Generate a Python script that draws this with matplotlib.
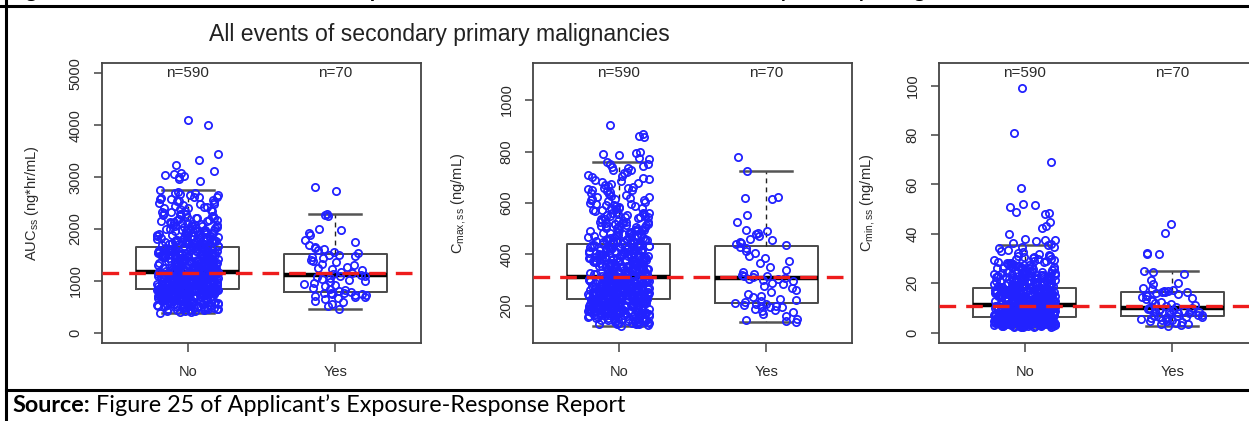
import numpy as np
import matplotlib
matplotlib.use("Agg")
import matplotlib.pyplot as plt
from matplotlib.lines import Line2D

plt.rcParams["font.family"] = ["Liberation Sans", "DejaVu Sans"]
plt.rcParams["mathtext.fontset"] = "custom"
plt.rcParams["mathtext.rm"] = "Liberation Sans"

# ---------------------------------------------------------------- data
groups = ["No", "Yes"]

auc_no = [
    386, 395, 401, 412, 418, 425, 431, 436, 447, 452, 458, 463, 470, 474, 481, 488, 492, 497, 503, 507,
    512, 516, 521, 527, 531, 534, 540, 544, 549, 553, 556, 561, 566, 569, 573, 578, 583, 586, 590, 594,
    598, 602, 605, 609, 613, 617, 620, 624, 627, 631, 634, 638, 641, 645, 648, 652, 655, 658, 662, 665,
    668, 672, 674, 679, 681, 685, 688, 690, 694, 697, 699, 703, 706, 709, 710, 715, 718, 720, 724, 727,
    729, 732, 733, 737, 740, 741, 745, 747, 750, 751, 755, 757, 758, 762, 764, 767, 768, 772, 774, 776,
    778, 781, 782, 786, 787, 790, 791, 794, 795, 798, 800, 801, 804, 806, 807, 810, 811, 814, 815, 818,
    819, 820, 821, 822, 823, 824, 825, 826, 827, 828, 455, 520, 575, 640, 700, 745, 760, 790, 805, 812,
    440, 530, 610, 690, 780, 829, 470,
    832, 835, 838, 842, 845, 848, 851, 855, 858, 861, 864, 867, 871, 874, 877, 880, 884, 887, 890, 893,
    896, 899, 903, 906, 909, 912, 915, 918, 922, 925, 928, 931, 934, 938, 941, 944, 947, 950, 953, 957,
    960, 963, 966, 969, 972, 976, 979, 982, 985, 988, 991, 995, 998, 1001, 1004, 1007, 1011, 1014, 1017, 1020,
    1023, 1026, 1030, 1033, 1036, 1039, 1042, 1045, 1049, 1052, 1055, 1058, 1061, 1064, 1068, 1071, 1074, 1077, 1080, 1083,
    1087, 1090, 1093, 1096, 1099, 1102, 1106, 1109, 1112, 1115, 1118, 1121, 1125, 1128, 1131, 1134, 1137, 1140, 1144, 1147,
    1150, 1153, 1156, 1159, 1162, 1165, 1168, 843, 901, 956, 1012, 1066, 1122, 870, 935, 990, 1048, 1101, 1160, 915,
    836, 853, 869, 882, 897, 911, 927, 946, 962, 981, 996, 1018, 1028, 1044, 1059, 1079, 1097, 1117, 1133, 1164,
    975, 1035, 1092, 1139, 885, 1000, 1110, 1155,
    1172, 1176, 1180, 1184, 1188, 1192, 1197, 1201, 1205, 1209, 1213, 1218, 1222, 1226, 1230, 1235, 1239, 1243, 1247, 1252,
    1256, 1260, 1264, 1269, 1273, 1277, 1282, 1286, 1290, 1294, 1299, 1303, 1307, 1312, 1316, 1320, 1325, 1329, 1333, 1338,
    1342, 1346, 1351, 1355, 1359, 1364, 1368, 1373, 1377, 1381, 1386, 1390, 1395, 1399, 1404, 1408, 1413, 1417, 1421, 1426,
    1430, 1435, 1440, 1444, 1449, 1453, 1458, 1462, 1467, 1472, 1476, 1481, 1486, 1490, 1495, 1500, 1504, 1509, 1514, 1519,
    1523, 1528, 1533, 1538, 1543, 1547, 1552, 1557, 1562, 1567, 1572, 1577, 1582, 1587, 1592, 1597, 1602, 1607, 1612, 1618,
    1623, 1628, 1633, 1638, 1644, 1649, 1652, 1185, 1241, 1298, 1357, 1415, 1478, 1541, 1605, 1210, 1330, 1450, 1580, 1270,
    1178, 1194, 1216, 1233, 1262, 1284, 1311, 1335, 1348, 1371, 1397, 1424, 1447, 1469, 1497, 1526, 1549, 1575, 1599, 1641,
    1390, 1510, 1630, 1200, 1360, 1560, 1460,
    1657, 1662, 1668, 1673, 1679, 1685, 1690, 1696, 1702, 1708, 1714, 1720, 1726, 1732, 1739, 1745, 1751, 1758, 1764, 1771,
    1777, 1784, 1791, 1798, 1805, 1812, 1819, 1826, 1833, 1841, 1848, 1856, 1863, 1871, 1879, 1887, 1895, 1903, 1911, 1920,
    1928, 1937, 1945, 1954, 1963, 1972, 1981, 1991, 2000, 2010, 2020, 2030, 2040, 2050, 2061, 2072, 2083, 2094, 2105, 2117,
    2128, 2140, 2152, 2165, 2177, 2190, 2203, 2216, 2230, 2244, 2258, 2272, 2287, 2302, 2317, 2333, 2349, 2366, 2383, 2400,
    2418, 2436, 2455, 2474, 2494, 2514, 2535, 2556, 2578, 2600, 2623, 2647, 2671, 2696, 2721, 2747, 1700, 1760, 1820, 1890,
    1960, 2060, 2170, 2290, 2420, 2580, 2660, 1680, 1740, 1800, 1870, 1940, 2020, 2110, 2220, 2350, 2610, 1790, 1980, 2260,
    1665, 1715, 1850, 1910, 2000, 2080, 2150, 2480, 2530, 2700, 2610, 1735, 1830, 2090, 2400,
    2930, 2970, 3000, 3020, 3040, 3050, 3080, 3110, 3240, 3330, 3450, 4000, 4100,
]
auc_yes = [
    463, 520, 555, 590, 610, 640, 660, 680, 695, 710, 720, 735, 745, 750, 758, 765, 770,
    780, 800, 820, 845, 865, 890, 910, 930, 950, 970, 990, 1010, 1030, 1050, 1070, 1085, 1100,
    1112, 1130, 1150, 1175, 1200, 1225, 1250, 1275, 1300, 1330, 1360, 1390, 1410, 1430, 1450, 1470, 1488,
    1500, 1530, 1560, 1590, 1610, 1640, 1660, 1690, 1740, 1790, 1880, 1930, 1980, 2000, 2250, 2270, 2284,
    2730, 2800,
]

cmax_no = [
    122, 126, 129, 131, 134, 136, 138, 140, 141, 143, 145, 146, 148, 149, 151, 152, 153, 155, 156, 157,
    158, 160, 161, 162, 163, 164, 165, 167, 168, 169, 170, 171, 172, 173, 174, 175, 176, 177, 178, 179,
    180, 181, 182, 183, 184, 185, 186, 186, 187, 188, 189, 190, 191, 192, 193, 193, 194, 195, 196, 197,
    198, 199, 199, 200, 201, 202, 203, 204, 204, 205, 206, 207, 208, 209, 209, 210, 211, 212, 213, 214,
    214, 215, 216, 217, 218, 219, 219, 220, 221, 222, 223, 224, 224, 225, 226, 135, 150, 166, 185, 200,
    212, 144, 159, 176, 190, 205, 218, 130, 154, 171, 188, 203, 221, 139, 163, 181, 196, 210, 225, 147,
    173, 192, 207, 128, 162, 183, 199, 216, 137, 166, 187, 208, 223, 142, 170, 194, 211, 148, 178, 201,
    219, 155, 184, 206, 132, 175, 215,
    228, 228, 229, 230, 231, 231, 232, 233, 233, 234, 235, 235, 236, 237, 238, 238, 239, 240, 240, 241,
    242, 242, 243, 244, 245, 245, 246, 247, 247, 248, 249, 250, 250, 251, 252, 252, 253, 254, 255, 255,
    256, 256, 257, 258, 258, 259, 260, 261, 261, 262, 263, 263, 264, 265, 266, 266, 267, 268, 268, 269,
    270, 270, 271, 272, 273, 273, 274, 275, 275, 276, 277, 278, 278, 279, 280, 280, 281, 282, 283, 283,
    284, 285, 285, 286, 287, 287, 288, 289, 290, 290, 291, 292, 292, 293, 294, 295, 295, 296, 297, 297,
    298, 299, 300, 300, 301, 302, 302, 303, 304, 304, 305, 306, 307, 307, 308, 309, 309, 310, 311, 312,
    229, 233, 237, 241, 246, 249, 253, 257, 260, 264, 267, 271, 276, 279, 284, 288, 293, 298, 303, 310,
    250, 262, 274, 289, 299, 236, 244, 312,
    314, 315, 316, 317, 318, 319, 320, 321, 322, 323, 324, 325, 325, 326, 327, 328, 329, 330, 331, 332,
    333, 334, 335, 336, 337, 338, 339, 340, 341, 342, 343, 343, 344, 345, 346, 347, 348, 349, 350, 351,
    352, 353, 354, 355, 356, 357, 358, 359, 360, 361, 362, 362, 363, 364, 365, 366, 367, 368, 369, 370,
    371, 372, 373, 374, 375, 376, 377, 378, 379, 380, 381, 381, 382, 383, 384, 385, 386, 387, 388, 389,
    390, 391, 392, 393, 394, 395, 396, 397, 398, 399, 400, 401, 402, 403, 404, 405, 406, 407, 408, 409,
    410, 411, 412, 413, 414, 415, 416, 417, 418, 419, 420, 421, 422, 423, 424, 425, 426, 427, 428, 429,
    430, 431, 432, 433, 434, 435, 436, 437, 438, 440, 318, 329, 341, 356, 368, 377, 388, 396, 404, 413,
    421, 432, 439, 335, 352, 374, 398,
    442, 443, 445, 446, 447, 449, 450, 452, 453, 455, 456, 458, 459, 461, 462, 464, 466, 467, 469, 470,
    472, 474, 475, 477, 479, 481, 482, 484, 486, 488, 490, 492, 494, 495, 497, 499, 501, 503, 505, 507,
    509, 511, 513, 515, 517, 519, 521, 523, 526, 528, 530, 532, 534, 537, 539, 541, 544, 546, 548, 551,
    553, 556, 558, 561, 563, 566, 569, 571, 574, 577, 580, 582, 585, 588, 591, 594, 597, 600, 603, 606,
    610, 613, 616, 620, 623, 627, 630, 634, 638, 642, 646, 650, 654, 658, 663, 667, 672, 677, 682, 687,
    692, 697, 703, 709, 715, 721, 728, 735, 742, 750, 760, 448, 471, 496, 525, 560, 590, 625, 660, 700,
    457, 485, 512, 545, 580, 615, 650, 690, 730, 753, 465, 520, 595, 670, 740, 505, 555, 478,
    770, 775, 785, 790, 795, 800, 855, 862, 870, 905,
]
cmax_yes = [
    138, 140, 145, 150, 160, 170, 175, 180, 185, 190, 195, 196, 198, 200, 203, 206, 209,
    212, 215, 218, 222, 228, 235, 240, 248, 255, 262, 270, 278, 285, 290, 295, 300, 303,
    306, 310, 312, 315, 318, 322, 326, 330, 340, 350, 365, 375, 385, 395, 405, 415, 425,
    430, 435, 440, 445, 448, 455, 460, 470, 480, 485, 490, 495, 525, 555, 615, 620, 625, 724,
    780,
]

cmin_no = [
    2.2, 2.3, 2.3, 2.4, 2.5, 2.5, 2.6, 2.7, 2.7, 2.8, 2.8, 2.9, 3.0, 3.0, 3.1, 3.1, 3.2, 3.2, 3.3, 3.3,
    3.4, 3.4, 3.5, 3.5, 3.5, 3.6, 3.6, 3.7, 3.7, 3.8, 3.8, 3.8, 3.9, 3.9, 4.0, 4.0, 4.0, 4.1, 4.1, 4.2,
    4.2, 4.2, 4.3, 4.3, 4.3, 4.4, 4.4, 4.4, 4.5, 4.5, 4.5, 4.6, 4.6, 4.6, 4.7, 4.7, 4.7, 4.8, 4.8, 4.8,
    4.9, 4.9, 4.9, 5.0, 5.0, 5.0, 5.0, 5.1, 5.1, 5.1, 5.2, 5.2, 5.2, 5.3, 5.3, 5.3, 5.4, 5.4, 5.4, 5.5,
    5.5, 5.5, 5.6, 5.6, 5.6, 5.7, 5.7, 5.7, 5.8, 5.8, 5.8, 5.9, 5.9, 5.9, 6.0, 6.0, 6.0, 6.1, 6.1, 6.2,
    2.4, 2.9, 3.2, 3.6, 3.9, 4.1, 4.4, 4.6, 4.9, 5.1, 5.3, 5.6, 5.8, 6.1, 2.6, 3.4, 4.0, 4.5, 5.2, 5.7,
    2.8, 3.5, 4.3, 4.8, 5.4, 6.0, 3.1, 3.7, 4.2, 4.7, 5.0, 5.5, 5.9, 6.2, 3.3, 3.9, 4.6, 5.1, 5.8, 6.1,
    2.5, 3.0, 3.8, 4.5, 5.2, 5.9, 6.2,
    6.3, 6.3, 6.4, 6.4, 6.5, 6.5, 6.6, 6.6, 6.7, 6.7, 6.8, 6.8, 6.9, 6.9, 7.0, 7.0, 7.1, 7.1, 7.2, 7.2,
    7.3, 7.3, 7.4, 7.4, 7.5, 7.5, 7.6, 7.6, 7.7, 7.7, 7.8, 7.8, 7.9, 7.9, 8.0, 8.0, 8.1, 8.1, 8.2, 8.2,
    8.3, 8.3, 8.4, 8.4, 8.5, 8.5, 8.6, 8.6, 8.7, 8.7, 8.8, 8.8, 8.9, 8.9, 9.0, 9.0, 9.1, 9.1, 9.2, 9.2,
    9.3, 9.3, 9.4, 9.4, 9.5, 9.5, 9.6, 9.6, 9.7, 9.7, 9.8, 9.8, 9.9, 9.9, 10.0, 10.0, 10.1, 10.1, 10.2, 10.2,
    10.3, 10.3, 10.4, 10.4, 10.5, 10.5, 10.6, 10.6, 10.7, 10.7, 10.8, 10.8, 10.9, 10.9, 11.0, 11.0, 6.5, 7.0, 7.5, 8.0,
    8.5, 9.0, 9.5, 10.0, 10.5, 6.8, 7.3, 7.8, 8.3, 8.8, 9.3, 9.8, 10.3, 10.8, 6.4, 7.2, 8.1, 9.1, 10.1, 6.9,
    6.4, 6.7, 7.0, 7.3, 7.6, 7.9, 8.2, 8.5, 8.8, 9.1, 9.4, 9.7, 10.0, 10.3, 10.6, 10.9, 6.6, 7.7, 8.7, 9.9,
    7.6, 8.6, 9.6, 10.6, 7.9, 8.9, 9.9, 10.9,
    11.2, 11.3, 11.3, 11.4, 11.5, 11.5, 11.6, 11.7, 11.7, 11.8, 11.9, 11.9, 12.0, 12.1, 12.1, 12.2, 12.3, 12.3, 12.4, 12.5,
    12.5, 12.6, 12.7, 12.7, 12.8, 12.9, 12.9, 13.0, 13.1, 13.1, 13.2, 13.3, 13.3, 13.4, 13.5, 13.5, 13.6, 13.7, 13.7, 13.8,
    13.9, 13.9, 14.0, 14.1, 14.1, 14.2, 14.3, 14.3, 14.4, 14.5, 14.5, 14.6, 14.7, 14.8, 14.8, 14.9, 15.0, 15.0, 15.1, 15.2,
    15.3, 15.3, 15.4, 15.5, 15.6, 15.6, 15.7, 15.8, 15.9, 15.9, 16.0, 16.1, 16.2, 16.3, 16.3, 16.4, 16.5, 16.6, 16.7, 16.7,
    16.8, 16.9, 17.0, 17.1, 17.2, 17.3, 17.4, 17.5, 17.6, 17.7, 17.8, 17.9, 18.0, 11.6, 12.2, 12.8, 13.4, 14.0, 14.6, 15.2,
    15.8, 16.4, 17.0, 17.6, 11.4, 12.0, 12.6, 13.2, 13.8, 14.4, 15.0, 15.7, 16.3, 16.9, 17.5, 11.8, 12.4, 13.0, 13.6, 14.2,
    14.9, 15.5, 16.1, 16.8, 17.4, 11.9, 12.9, 13.9, 14.8, 15.8, 16.6, 17.3, 12.3, 13.5, 14.7, 16.0, 17.8, 13.1, 15.4, 17.2,
    12.7, 14.3, 15.9, 11.5, 13.3, 16.5, 17.9,
    18.2, 18.4, 18.5, 18.7, 18.9, 19.0, 19.2, 19.4, 19.5, 19.7, 19.9, 20.0, 20.2, 20.4, 20.6, 20.8, 21.0, 21.2, 21.4, 21.6,
    21.8, 22.0, 22.2, 22.4, 22.6, 22.8, 23.0, 23.2, 23.4, 23.7, 23.9, 24.1, 24.4, 24.6, 24.8, 25.1, 25.3, 25.6, 25.8, 26.1,
    26.4, 26.6, 26.9, 27.2, 27.5, 27.8, 28.1, 28.4, 28.7, 29.0, 29.4, 29.7, 30.0, 30.4, 30.8, 31.2, 31.6, 32.1, 32.6, 33.1,
    33.6, 34.2, 34.8, 35.4, 18.3, 18.8, 19.3, 19.8, 20.3, 20.7, 21.1, 21.5, 21.9, 22.3, 22.7, 23.1, 23.5, 24.0, 24.5, 25.0,
    25.5, 26.0, 26.8, 27.6, 28.5, 29.5, 30.6, 31.8, 18.6, 19.1, 19.6, 20.1, 20.5, 21.3, 22.1, 22.9, 23.8, 24.7, 25.9, 27.0,
    28.9, 30.9, 34.5, 18.9, 19.4, 20.9, 21.7, 22.5, 23.3, 24.2, 26.3, 28.0, 19.0, 20.0, 21.0, 22.0, 23.0, 24.0, 26.7, 29.8,
    18.5, 19.6, 20.6, 21.6, 22.6, 24.3, 27.3, 31.0,
    36.0, 36.5, 37.0, 37.5, 37.6, 38.0, 40.0, 42.5, 43.0, 45.0, 48.0, 48.5, 49.0, 51.0, 51.5, 52.0, 58.5, 69.0, 81.0, 99.0,
]
cmin_yes = [
    2.7, 3.0, 3.3, 3.6, 4.0, 4.3, 4.6, 4.9, 5.1, 5.3, 5.6, 5.8, 6.0, 6.2, 6.3, 6.4, 6.5,
    6.7, 6.9, 7.1, 7.3, 7.6, 7.8, 8.0, 8.2, 8.4, 8.6, 8.8, 9.0, 9.1, 9.3, 9.4, 9.5, 9.6,
    9.8, 10.0, 10.3, 10.7, 11.0, 11.5, 12.0, 12.5, 13.0, 13.4, 13.8, 14.2, 14.6, 15.0, 15.4, 15.7, 16.0,
    16.3, 16.6, 16.9, 17.2, 17.6, 18.0, 19.5, 20.0, 21.5, 23.8, 24.5, 25.0, 16.5, 17.0,
    31.8, 32.0, 32.2, 40.5, 44.0,
]

# overall median exposure drawn as the red reference line in each panel
overall_medians = [1158, 311, 10.9]

y_labels = [r"AUC$_{\mathregular{ss}}$ (ng*hr/mL)",
            r"C$_{\mathregular{max,ss}}$ (ng/mL)",
            r"C$_{\mathregular{min,ss}}$ (ng/mL)"]
y_ticks = [[0, 1000, 2000, 3000, 4000, 5000],
           [200, 400, 600, 800, 1000],
           [0, 20, 40, 60, 80, 100]]

panel_title = "All events of secondary primary malignancies"
caption = ("Figure 26: Distribution of Estimated Exposure in Patients with or "
           "without Secondary Primary Malignancies")
source_label = "Source:"
source_text = " Figure 25 of Applicant\u2019s Exposure-Response Report"

# ---------------------------------------------------------------- layout
W, H = 1249, 421
fig = plt.figure(figsize=(W / 100, H / 100), dpi=100)


def px_box(left, top, width, height):
    return [left / W, 1 - (top + height) / H, width / W, height / H]


panel_lefts = [102, 533, 939]
y_limits = [(-200, 5200), (56, 1144), (-4.2, 109.2)]
panel_data = [(auc_no, auc_yes), (cmax_no, cmax_yes), (cmin_no, cmin_yes)]
label_x = [-0.19, -0.20, -0.19]

TEXT = "#2a2a2a"


def spread(n, half, phase):
    # scattered horizontal offsets (deterministic hash) for the strip points
    k = np.arange(n) + 1.0 + phase
    u = np.sin(k * 12.9898) * 43758.5453
    u = u - np.floor(u)
    return (u - 0.5) * 2 * half


for i, left in enumerate(panel_lefts):
    ax = fig.add_axes(px_box(left, 63, 319, 280))
    no_vals, yes_vals = panel_data[i]
    series = [np.asarray(no_vals, float), np.asarray(yes_vals, float)]

    ax.boxplot(series, positions=[1, 2], widths=0.7, capwidths=0.35,
               showfliers=False, whis=1.5, zorder=2,
               boxprops=dict(color="#4a4a4a", linewidth=1.4),
               medianprops=dict(color="black", linewidth=3.2),
               whiskerprops=dict(color="#222222", linewidth=1.0, linestyle=(0, (3.5, 3))),
               capprops=dict(color="#555555", linewidth=1.8))

    for pos, vals in zip([1, 2], series):
        ax.plot(pos + spread(len(vals), 0.21, 7.0 * i + pos), vals, linestyle="none",
                marker="o", markersize=5.2, markerfacecolor="none",
                markeredgecolor="#2222ff", markeredgewidth=1.3, zorder=3)

    ax.axhline(overall_medians[i], color="#ee1c1c", linewidth=2.4,
               linestyle=(0, (5, 3)), zorder=4)

    for pos, vals in zip([1, 2], series):
        ax.text(pos, 0.963, f"n={len(vals)}", transform=ax.get_xaxis_transform(),
                ha="center", va="center", fontsize=11, color=TEXT)

    ax.set_xlim(0.42, 2.58)
    ax.set_ylim(*y_limits[i])
    ax.set_xticks([1, 2])
    ax.set_xticklabels(groups)
    ax.set_yticks(y_ticks[i])
    ax.set_yticklabels([str(t) for t in y_ticks[i]])
    ax.tick_params(axis="both", direction="out", color="#444444", width=1.1,
                   labelsize=10.5, labelcolor=TEXT)
    ax.tick_params(axis="x", length=6.5, pad=9)
    ax.tick_params(axis="y", length=6, pad=8, labelrotation=90)
    for lab in ax.get_yticklabels():
        lab.set_verticalalignment("center")
    for sp in ax.spines.values():
        sp.set_color("#444444")
        sp.set_linewidth(1.3)

    ax.set_ylabel(y_labels[i], fontsize=10.5, color=TEXT)
    ax.yaxis.set_label_coords(label_x[i], 0.5)

fig.text(439 / W, 1 - 35 / H, panel_title, ha="center", va="center",
         fontsize=16.6, color="#222222")

# report frame: rules and captions
frame_kw = dict(transform=fig.transFigure, color="black", linewidth=2.2)
fig.add_artist(Line2D([6 / W, 6 / W], [0, 1], **frame_kw))
fig.add_artist(Line2D([0, 1], [1 - 5.5 / H, 1 - 5.5 / H], **frame_kw))
fig.add_artist(Line2D([6 / W, 1], [1 - 390 / H, 1 - 390 / H], **frame_kw))

fig.text(9 / W, 1 + 3.5 / H, caption, family=["Lato", "DejaVu Sans"],
         fontweight="bold", fontsize=15, va="baseline", ha="left")

src = fig.text(12 / W, 1 - 412 / H, source_label, family=["Lato", "DejaVu Sans"],
               fontweight="bold", fontsize=16.8, va="baseline", ha="left")
renderer = fig.canvas.get_renderer()
bb = src.get_window_extent(renderer=renderer)
fig.text(bb.x1 / W, 1 - 412 / H, source_text, family=["Lato", "DejaVu Sans"],
         fontsize=16.8, va="baseline", ha="left")

fig.savefig("out.png", dpi=100)
